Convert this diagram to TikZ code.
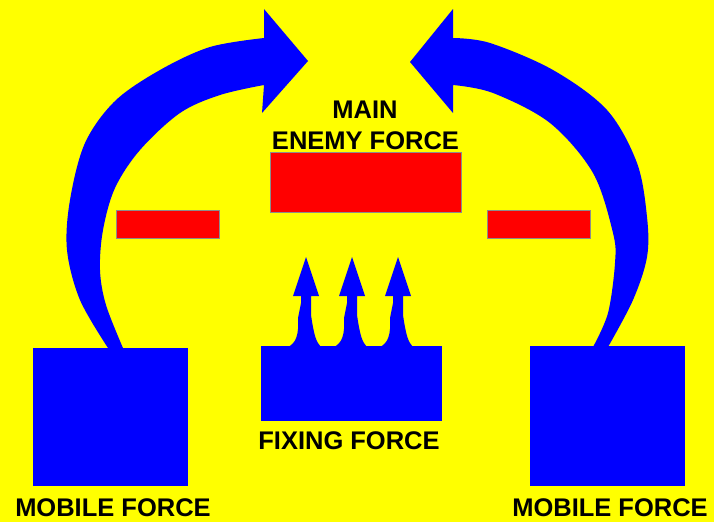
\documentclass[tikz,border=0pt]{standalone}
\usepackage{fontspec}
\setmainfont{Liberation Sans}
\usepackage{tikz}
\usetikzlibrary{positioning, calc}
\definecolor{myblue}{RGB}{0,0,255}
\definecolor{myred}{RGB}{255,0,0}
\definecolor{myyellow}{RGB}{255,255,0}
\definecolor{mygray}{RGB}{140,140,140}
\tikzset{
  forcebox/.style={rectangle, fill=myblue, inner sep=0pt, anchor=north west},
  enemybox/.style={rectangle, fill=myred, draw=mygray, line width=0.8pt,
    inner sep=0pt, anchor=north west},
  forcetext/.style={font=\fontsize{25.5}{30}\selectfont\bfseries, text=black,
    inner sep=0pt, text depth=0pt, anchor=base},
  bigarrow/.style={fill=myblue},
  smallarrow/.style={fill=myblue}
}
\begin{document}
\begin{tikzpicture}[x=1pt, y=-1pt]
  % Background
  \fill[myyellow] (0,0) rectangle (714,522);
  \useasboundingbox (0,0) rectangle (714,522);

  % Left mobile arrow
  \fill[bigarrow] plot[smooth, tension=0.55] coordinates {(108,348) (80,300) (67,250) (70,200) (85,143) (115,101) (160,70) (210,47) (264,38)}
    -- (264,9) -- (308,61) -- (262,113) -- (264,85)
    -- plot[smooth, tension=0.55] coordinates {(264,85) (220,95) (180,113) (140,150) (115,188) (103,230) (100,270) (106,305) (123,348)} -- cycle;

  % Right mobile arrow
  \fill[bigarrow] plot[smooth, tension=0.55] coordinates {(608,347) (633,300) (647,257) (647,217) (637,163) (607,110) (553,70) (490,43) (453,38)}
    -- (453,9) -- (410,62) -- (453,113) -- (453,85)
    -- plot[smooth, tension=0.55] coordinates {(453,85) (493,93) (550,123) (593,173) (613,233) (615,263) (608,313) (593,347)} -- cycle;

  % Fixing arrows
  \foreach \x in {306,352,398} {
    \fill[smallarrow] (\x-18,347) .. controls (\x-10,343) and (\x-7,335) .. (\x-8,318)
      -- (\x-5,303) -- (\x-5,296) -- (\x-13,296) -- (\x,257) -- (\x+13,296)
      -- (\x+5,296) -- (\x+5,315) .. controls (\x+8,335) and (\x+10,342) .. (\x+15,347) -- cycle;
  }

  % Forces
  \node[forcebox, minimum width=155pt, minimum height=138pt] (mobileL) at (33,348) {};
  \node[forcebox, minimum width=155pt, minimum height=140pt] (mobileR) at (530,346) {};
  \node[forcebox, minimum width=181pt, minimum height=75pt] (fixing) at (261,346) {};

  % Enemy
  \node[enemybox, minimum width=191pt, minimum height=60pt] (enemyM) at (270,152) {};
  \node[enemybox, minimum width=103pt, minimum height=28pt] (enemyL) at (116,210) {};
  \node[enemybox, minimum width=103pt, minimum height=28pt] (enemyR) at (487,210) {};

  % Labels
  \node[forcetext] (mainlbl) at (365,118) {MAIN};
  \node[forcetext] (enemylbl) at (365.5,149.5) {ENEMY FORCE};
  \node[forcetext] (fixlbl) at (349,449.5) {FIXING FORCE};
  \node[forcetext] (mobLlbl) at (113,516.5) {MOBILE FORCE};
  \node[forcetext] (mobRlbl) at (610,516.5) {MOBILE FORCE};
\end{tikzpicture}
\end{document}
